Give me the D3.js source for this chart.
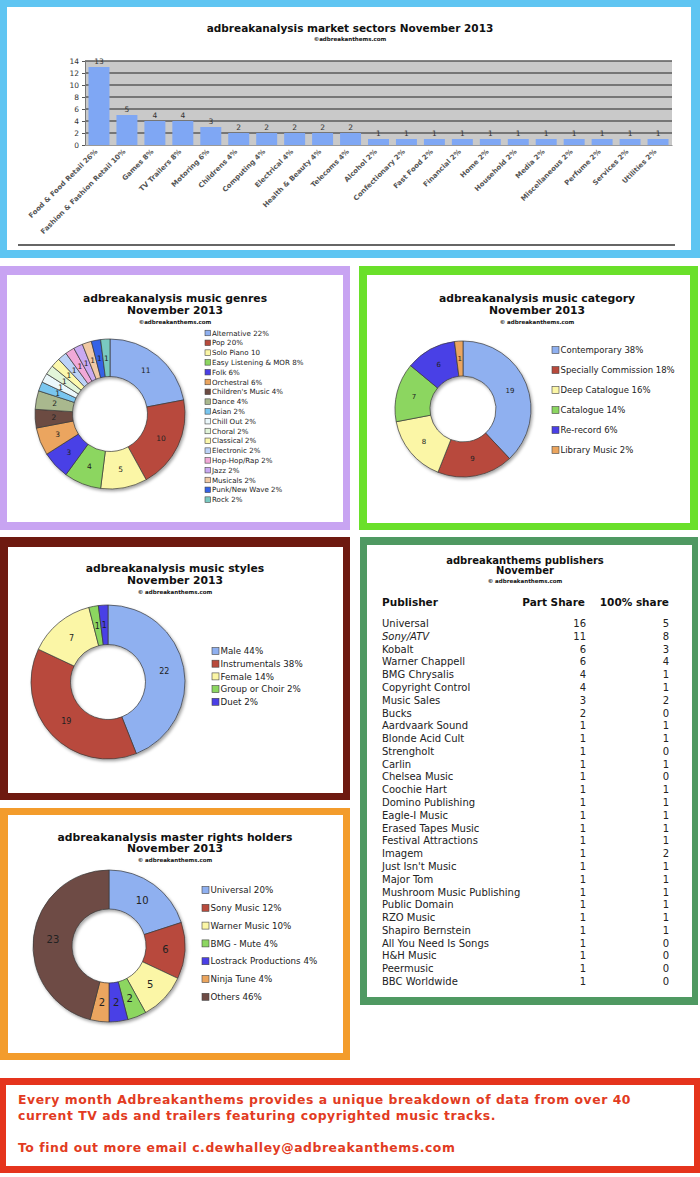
<!DOCTYPE html>
<html><head><meta charset="utf-8">
<script src="https://cdn.jsdelivr.net/npm/d3@7"></script>
<style>
body{margin:0;background:#fff}
svg{display:block}
text{font-family:"DejaVu Sans",Verdana,sans-serif}
</style>
</head><body>
<svg id="c" width="700" height="1177"></svg>
<script>
// ---------- DATA ----------
const sectorNames = ["Food & Food Retail 26%","Fashion & Fashion Retail 10%","Games 8%","TV Trailers 8%","Motoring 6%","Childrens 4%","Computing 4%","Electrical 4%","Health & Beauty 4%","Telecoms 4%","Alcohol 2%","Confectionary 2%","Fast Food 2%","Financial 2%","Home 2%","Household 2%","Media 2%","Miscellaneous 2%","Perfume 2%","Services 2%","Utilities 2%"];
const sectorValues = [13,5,4,4,3,2,2,2,2,2,1,1,1,1,1,1,1,1,1,1,1];
const sectorTicks = [0,2,4,6,8,10,12,14];

const genreLegend = ["Alternative 22%","Pop 20%","Solo Piano 10","Easy Listening & MOR 8%","Folk 6%","Orchestral 6%","Children's Music 4%","Dance 4%","Asian 2%","Chill Out 2%","Choral 2%","Classical 2%","Electronic 2%","Hop-Hop/Rap 2%","Jazz 2%","Musicals 2%","Punk/New Wave 2%","Rock 2%"];
const genreValues = [11,10,5,4,3,3,2,2,1,1,1,1,1,1,1,1,1,1];
const genreColors = ["#8fb0f0","#b84a3c","#fbf6a6","#8cd661","#4a3fe6","#eba55e","#6c4b43","#a9b88e","#79c6ef","#ebf8fb","#e2f5d9","#fcf8ac","#bcd2f7","#f1a9d8","#c9a9f1","#f1c9a4","#3462e6","#79c9c1"];

const categoryLegend = ["Contemporary 38%","Specially Commission 18%","Deep Catalogue 16%","Catalogue 14%","Re-record 6%","Library Music 2%"];
const categoryValues = [19,9,8,7,6,1];
const categoryColors = ["#8fb0f0","#b84a3c","#fbf6a6","#8cd661","#4a3fe6","#eba55e"];

const styleLegend = ["Male 44%","Instrumentals 38%","Female 14%","Group or Choir 2%","Duet 2%"];
const styleValues = [22,19,7,1,1];
const styleColors = ["#8fb0f0","#b84a3c","#fbf6a6","#8cd661","#4a3fe6"];

const masterLegend = ["Universal 20%","Sony Music 12%","Warner Music 10%","BMG - Mute 4%","Lostrack Productions 4%","Ninja Tune 4%","Others 46%"];
const masterValues = [10,6,5,2,2,2,23];
const masterColors = ["#8fb0f0","#b84a3c","#fbf6a6","#8cd661","#4a3fe6","#eba55e","#6e4b45"];

const pubNames = ["Universal","Sony/ATV","Kobalt","Warner Chappell","BMG Chrysalis","Copyright Control","Music Sales","Bucks","Aardvaark Sound","Blonde Acid Cult","Strengholt","Carlin","Chelsea Music","Coochie Hart","Domino Publishing","Eagle-I Music","Erased Tapes Music","Festival Attractions","Imagem","Just Isn't Music","Major Tom","Mushroom Music Publishing","Public Domain","RZO Music","Shapiro Bernstein","All You Need Is Songs","H&H Music","Peermusic","BBC Worldwide"];
const pubPart = [16,11,6,6,4,4,3,2,1,1,1,1,1,1,1,1,1,1,1,1,1,1,1,1,1,1,1,1,1];
const pubFull = [5,8,3,4,1,1,2,0,1,1,0,1,0,1,1,1,1,1,2,1,1,1,1,1,1,0,0,0,0];

// ---------- DRAW ----------
const svg = d3.select("#c");
const defs = svg.append("defs");
const f = defs.append("filter").attr("id","sh").attr("x","-20%").attr("y","-20%").attr("width","140%").attr("height","140%");
f.append("feDropShadow").attr("dx",1.5).attr("dy",2).attr("stdDeviation",1.6).attr("flood-color","#000").attr("flood-opacity",0.35);

function panel(x0,y0,x1,y1,ix0,iy0,ix1,iy1,color){
  svg.append("rect").attr("x",x0).attr("y",y0).attr("width",x1-x0).attr("height",y1-y0).attr("fill",color);
  svg.append("rect").attr("x",ix0).attr("y",iy0).attr("width",ix1-ix0).attr("height",iy1-iy0).attr("fill","#fff");
}
function titles(cx, lines){
  lines.forEach(l=>{
    svg.append("text").attr("x",cx).attr("y",l.y).attr("text-anchor","middle")
      .attr("font-size",l.size).attr("font-weight","bold").attr("fill",l.fill||"#111").text(l.t);
  });
}
function donut(values, colors, cx, cy, R, r, lsize, lweight){
  const pie = d3.pie().sort(null).value(d=>d)(values);
  const arc = d3.arc().innerRadius(r).outerRadius(R);
  const g = svg.append("g").attr("transform",`translate(${cx},${cy})`);
  g.append("g").attr("filter","url(#sh)").selectAll("path").data(pie).join("path")
    .attr("d",arc).attr("fill",(d,i)=>colors[i]).attr("stroke","#3a3a3a").attr("stroke-width",0.7);
  g.selectAll("text").data(pie).join("text")
    .attr("transform",d=>`translate(${arc.centroid(d)})`).attr("text-anchor","middle").attr("dy","0.36em")
    .attr("font-size",lsize).attr("font-weight",lweight||"normal").attr("fill","#222").text(d=>d.data);
}
function legend(items, colors, x, y0, step, fsize, sw){
  const g = svg.append("g");
  items.forEach((t,i)=>{
    const y = y0 + i*step;
    g.append("rect").attr("x",x).attr("y",y-sw/2).attr("width",sw).attr("height",sw)
      .attr("fill",colors[i]).attr("stroke","#444").attr("stroke-width",0.6);
    g.append("text").attr("x",x+sw+1.5).attr("y",y).attr("dy","0.36em").attr("font-size",fsize).attr("fill","#222").text(t);
  });
}

// ----- Top panel: market sectors -----
panel(0,0,700,258,7,7,691,250,"#5fc5f2");
titles(350,[{t:"adbreakanalysis market sectors November 2013",y:32,size:10.5},{t:"©adbreakanthems.com",y:41,size:5.5}]);
const x = d3.scaleBand().domain(sectorNames).range([85,672]).paddingInner(0.25).paddingOuter(0.125);
const y = d3.scaleLinear().domain([0,14]).range([145,61]);
svg.append("rect").attr("x",85).attr("y",y(14)).attr("width",587).attr("height",y(0)-y(14)).attr("fill","#c9c9c9");
svg.append("g").selectAll("line").data(sectorTicks.filter(t=>t>0)).join("line")
  .attr("x1",85).attr("x2",672).attr("y1",d=>y(d)).attr("y2",d=>y(d)).attr("stroke","#5a5a5a").attr("stroke-width",1.4);
svg.append("g").selectAll("rect").data(sectorValues).join("rect")
  .attr("x",(d,i)=>x(sectorNames[i])).attr("y",d=>y(d)).attr("width",x.bandwidth()).attr("height",d=>y(0)-y(d))
  .attr("fill","#7fa7f4");
svg.append("g").selectAll("text").data(sectorValues).join("text")
  .attr("x",(d,i)=>x(sectorNames[i])+x.bandwidth()/2).attr("y",d=>y(d)-3).attr("text-anchor","middle")
  .attr("font-size",7.5).attr("fill","#333").text(d=>d);
const ya = svg.append("g").attr("transform","translate(85,0)").call(d3.axisLeft(y).tickValues(sectorTicks).tickSize(3).tickPadding(3));
ya.select(".domain").attr("stroke","#777");
ya.selectAll(".tick line").attr("stroke","#555");
ya.selectAll("text").attr("font-size",7.5).attr("fill","#333").attr("font-family","DejaVu Sans");
const xa = svg.append("g").attr("transform","translate(0,145)").call(d3.axisBottom(x).tickSize(0).tickFormat(""));
xa.select(".domain").attr("stroke","#999");
svg.append("g").selectAll("text").data(sectorNames).join("text")
  .attr("transform",d=>`translate(${x(d)+x.bandwidth()/2-1},152) rotate(-45)`)
  .attr("text-anchor","end").attr("font-size",7).attr("font-weight","bold").attr("fill","#555").text(d=>d);
svg.append("line").attr("x1",18).attr("x2",675).attr("y1",245).attr("y2",245).attr("stroke","#666").attr("stroke-width",2);

// ----- Genres -----
panel(0,266,350,530,7,275,343,522,"#c8a4f2");
titles(175,[{t:"adbreakanalysis music genres",y:302,size:10.8},{t:"November 2013",y:314,size:10.8},{t:"©adbreakanthems.com",y:323.5,size:5.5}]);
donut(genreValues, genreColors, 110, 414, 75, 37.5, 7.5);
legend(genreLegend, genreColors, 205, 333, 9.8, 7.1, 5.5);

// ----- Category -----
panel(359,266,698,530,367,275,690,523,"#6ae02a");
titles(537,[{t:"adbreakanalysis music category",y:302,size:10.8},{t:"November 2013",y:314,size:10.8},{t:"© adbreakanthems.com",y:323.5,size:5.5}]);
donut(categoryValues, categoryColors, 463, 409, 68, 33, 7);
legend(categoryLegend, categoryColors, 552, 350, 20, 8.5, 7);

// ----- Styles -----
panel(0,537,350,800,8,547,343,793,"#6e1a10");
titles(175,[{t:"adbreakanalysis music styles",y:572,size:10.8},{t:"November 2013",y:584,size:10.8},{t:"© adbreakanthems.com",y:593.5,size:5.5}]);
donut(styleValues, styleColors, 108, 682, 77, 37.5, 8);
legend(styleLegend, styleColors, 212, 651, 12.7, 8.7, 7);

// ----- Master rights -----
panel(0,808,350,1060,8,815,343,1053,"#f39c2c");
titles(175,[{t:"adbreakanalysis master rights holders",y:841,size:10.8},{t:"November 2013",y:852,size:10.8},{t:"© adbreakanthems.com",y:862,size:5.5}]);
donut(masterValues, masterColors, 109, 946, 76, 37, 10);
legend(masterLegend, masterColors, 202, 890, 17.8, 8.7, 7);

// ----- Publishers -----
panel(360,537,698,1005,367,545,692,997,"#4f9962");
titles(525,[{t:"adbreakanthems publishers",y:563.5,size:10},{t:"November",y:574,size:10},{t:"© adbreakanthems.com",y:583,size:5.5}]);
svg.append("text").attr("x",382).attr("y",606).attr("font-size",10.5).attr("font-weight","bold").attr("fill","#111").text("Publisher");
svg.append("text").attr("x",585).attr("y",606).attr("text-anchor","end").attr("font-size",10.5).attr("font-weight","bold").attr("fill","#111").text("Part Share");
svg.append("text").attr("x",669).attr("y",606).attr("text-anchor","end").attr("font-size",10.5).attr("font-weight","bold").attr("fill","#111").text("100% share");
const ry = d3.scalePoint().domain(d3.range(pubNames.length)).range([627,985]);
const tg = svg.append("g").attr("font-size",10).attr("fill","#222");
pubNames.forEach((n,i)=>{
  tg.append("text").attr("x",382).attr("y",ry(i)).attr("font-style",n==="Sony/ATV"?"italic":"normal").text(n);
  tg.append("text").attr("x",586).attr("y",ry(i)).attr("text-anchor","end").text(pubPart[i]);
  tg.append("text").attr("x",669).attr("y",ry(i)).attr("text-anchor","end").text(pubFull[i]);
});

// ----- Footer -----
panel(0,1078,700,1173,6,1085,694,1166,"#e5341d");
const ft = svg.append("g").attr("font-size",12.4).attr("font-weight","bold").attr("fill","#e23b22").attr("letter-spacing",0.55);
ft.append("text").attr("x",18).attr("y",1104).text("Every month Adbreakanthems provides a unique breakdown of data from over 40");
ft.append("text").attr("x",18).attr("y",1120).text("current TV ads and trailers featuring copyrighted music tracks.");
ft.append("text").attr("x",18).attr("y",1152).text("To find out more email c.dewhalley@adbreakanthems.com");
</script>
</body></html>
